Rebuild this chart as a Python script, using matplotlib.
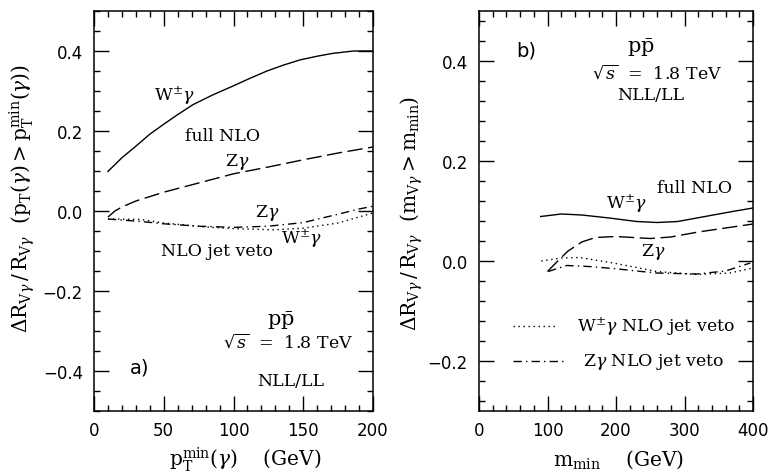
import matplotlib
matplotlib.use("Agg")
import matplotlib.pyplot as plt
from matplotlib.ticker import MultipleLocator, FuncFormatter

plt.rcParams['mathtext.fontset'] = 'dejavuserif'
plt.rcParams['font.family'] = 'DejaVu Sans'

# ---------------- data: panel a) (pT_min in GeV) ----------------
pt_w_full = [10, 20, 31, 40, 50, 60, 71, 85, 100, 112, 124, 136, 148, 160, 171, 186, 200]
w_full_a = [0.099, 0.133, 0.165, 0.192, 0.217, 0.241, 0.266, 0.29, 0.313, 0.332,
            0.350, 0.365, 0.378, 0.387, 0.394, 0.40, 0.40]

pt_z_full = [10, 15, 20, 30, 50, 75, 100, 125, 150, 175, 200]
z_full_a = [-0.015, 0.0, 0.01, 0.025, 0.047, 0.07, 0.093, 0.11, 0.128, 0.145, 0.16]

pt_z_veto = [10, 33, 50, 75, 100, 125, 150, 175, 190, 200]
z_veto_a = [-0.02, -0.026, -0.032, -0.038, -0.041, -0.038, -0.029, -0.008, 0.005, 0.012]
pt_w_veto = [10, 33, 50, 80, 100, 129, 150, 175, 200]
w_veto_a = [-0.02, -0.021, -0.03, -0.04, -0.044, -0.047, -0.043, -0.03, -0.005]

# ---------------- data: panel b) (m_min in GeV) ----------------
m_w_full = [90, 120, 150, 190, 230, 260, 290, 330, 370, 400]
w_full_b = [0.089, 0.094, 0.092, 0.086, 0.079, 0.077, 0.079, 0.089, 0.099, 0.106]

m_z_full = [100, 115, 130, 150, 170, 200, 250, 280, 320, 360, 400]
z_full_b = [-0.021, 0.0, 0.02, 0.038, 0.047, 0.049, 0.045, 0.048, 0.058, 0.066, 0.074]

m_w_veto = [91, 120, 147, 196, 230, 259, 318, 366, 400]
w_veto_b = [0.0, 0.006, 0.007, -0.004, -0.013, -0.021, -0.027, -0.024, -0.014]

m_z_veto = [101, 128, 160, 196, 230, 259, 318, 360, 396]
z_veto_b = [-0.021, -0.009, -0.011, -0.015, -0.02, -0.024, -0.026, -0.02, -0.004]

W, H = 771, 477
fig = plt.figure(figsize=(W / 100, H / 100), dpi=100)

def px_axes(x0, x1, y0, y1):
    return fig.add_axes([x0 / W, 1 - y1 / H, (x1 - x0) / W, (y1 - y0) / H])

axA = px_axes(94, 373, 12, 412)
axB = px_axes(479, 753, 12, 412)

DASH = (0, (11, 4))
DASHDOT = (0, (6, 3, 1, 3))
DOT = (0, (1, 2.6))
lw = 1.0
SERIF = 'DejaVu Serif'
FS = 12.5

yfmt = FuncFormatter(lambda v, p: ('%.1f' % v).replace('-', '\u2212') if abs(v) > 1e-9 else '0.0')

def style_axes(ax, xlim, ylim, xmaj, xmin, ymaj, ymin):
    ax.set_xlim(*xlim)
    ax.set_ylim(*ylim)
    ax.xaxis.set_major_locator(MultipleLocator(xmaj))
    ax.xaxis.set_minor_locator(MultipleLocator(xmin))
    ax.yaxis.set_major_locator(MultipleLocator(ymaj))
    ax.yaxis.set_minor_locator(MultipleLocator(ymin))
    ax.yaxis.set_major_formatter(yfmt)
    ax.tick_params(which='both', direction='in', top=True, right=True,
                   labelsize=12, width=1.0)
    ax.tick_params(which='major', length=11)
    ax.tick_params(which='minor', length=4.5)
    ax.tick_params(axis='y', pad=8)
    ax.tick_params(axis='x', pad=7)
    for s in ax.spines.values():
        s.set_linewidth(1.1)

# ---------- panel a ----------
axA.plot(pt_w_full, w_full_a, color='black', lw=lw)
axA.plot(pt_z_full, z_full_a, color='black', lw=lw, linestyle=DASH)
axA.plot(pt_z_veto, z_veto_a, color='black', lw=lw, linestyle=DASHDOT)
axA.plot(pt_w_veto, w_veto_a, color='black', lw=lw, linestyle=DOT)
style_axes(axA, (0, 200), (-0.5, 0.5), 50, 10, 0.2, 0.05)

tk = dict(family=SERIF, fontsize=FS, ha='center', va='center')
axA.text(58, 0.29, r'W$^{\pm}\gamma$', **tk)
axA.text(92, 0.1875, 'full NLO', **tk)
axA.text(103, 0.125, r'Z$\gamma$', **tk)
axA.text(124, -0.003, r'Z$\gamma$', **tk)
axA.text(88, -0.10, 'NLO jet veto', **tk)
axA.text(149, -0.066, r'W$^{\pm}\gamma$', **tk)
axA.text(134, -0.272, r'$\mathrm{p\bar{p}}$', family=SERIF, fontsize=15, ha='center', va='center')
axA.text(139, -0.325, r'$\sqrt{s}$  =  1.8 TeV', **tk)
axA.text(141, -0.425, 'NLL/LL', **tk)
axA.text(33, -0.39, 'a)', family='DejaVu Sans', fontsize=14, ha='center', va='center')

# ---------- panel b ----------
axB.plot(m_w_full, w_full_b, color='black', lw=lw)
axB.plot(m_z_full, z_full_b, color='black', lw=lw, linestyle=DASH)
axB.plot(m_z_veto, z_veto_b, color='black', lw=lw, linestyle=DASHDOT)
axB.plot(m_w_veto, w_veto_b, color='black', lw=lw, linestyle=DOT)
style_axes(axB, (0, 400), (-0.3, 0.5), 100, 20, 0.2, 0.04)

axB.text(69, 0.422, 'b)', family='DejaVu Sans', fontsize=14, ha='center', va='center')
axB.text(236, 0.428, r'$\mathrm{p\bar{p}}$', family=SERIF, fontsize=15, ha='center', va='center')
axB.text(260, 0.378, r'$\sqrt{s}$  =  1.8 TeV', **tk)
axB.text(251, 0.332, 'NLL/LL', **tk)
axB.text(314, 0.146, 'full NLO', **tk)
axB.text(216, 0.116, r'W$^{\pm}\gamma$', **tk)
axB.text(255, 0.02, r'Z$\gamma$', **tk)

# legend-like keys (axes fraction positions)
axB.plot([0.124, 0.285], [0.2125, 0.2125], transform=axB.transAxes,
         color='black', lw=lw, linestyle=DOT)
axB.text(0.357, 0.2125, r'W$^{\pm}\gamma$ NLO jet veto', transform=axB.transAxes,
         family=SERIF, fontsize=FS, ha='left', va='center')
axB.plot([0.124, 0.307], [0.125, 0.125], transform=axB.transAxes,
         color='black', lw=lw, linestyle=DASHDOT)
axB.text(0.379, 0.125, r'Z$\gamma$ NLO jet veto', transform=axB.transAxes,
         family=SERIF, fontsize=FS, ha='left', va='center')

# axis labels
fig.text(22 / W, 1 - 198 / H,
         r'$\Delta\mathrm{R}_{\mathrm{V}\gamma}\,/\,\mathrm{R}_{\mathrm{V}\gamma}\ \ (\mathrm{p}_{\mathrm{T}}(\gamma) > \mathrm{p}_{\mathrm{T}}^{\mathrm{min}}(\gamma))$',
         rotation=90, ha='center', va='center', fontsize=14.5)
fig.text(412 / W, 1 - 213 / H,
         r'$\Delta\mathrm{R}_{\mathrm{V}\gamma}\,/\,\mathrm{R}_{\mathrm{V}\gamma}\ \ (\mathrm{m}_{\mathrm{V}\gamma} > \mathrm{m}_{\mathrm{min}})$',
         rotation=90, ha='center', va='center', fontsize=14.5)
fig.text(245 / W, 1 - 460 / H,
         r'$\mathrm{p}_{\mathrm{T}}^{\mathrm{min}}(\gamma)$    (GeV)',
         ha='center', va='center', fontsize=14.5, family=SERIF)
fig.text(618 / W, 1 - 460 / H,
         r'$\mathrm{m}_{\mathrm{min}}$    (GeV)',
         ha='center', va='center', fontsize=14.5, family=SERIF)

fig.savefig('out.png', dpi=100)
